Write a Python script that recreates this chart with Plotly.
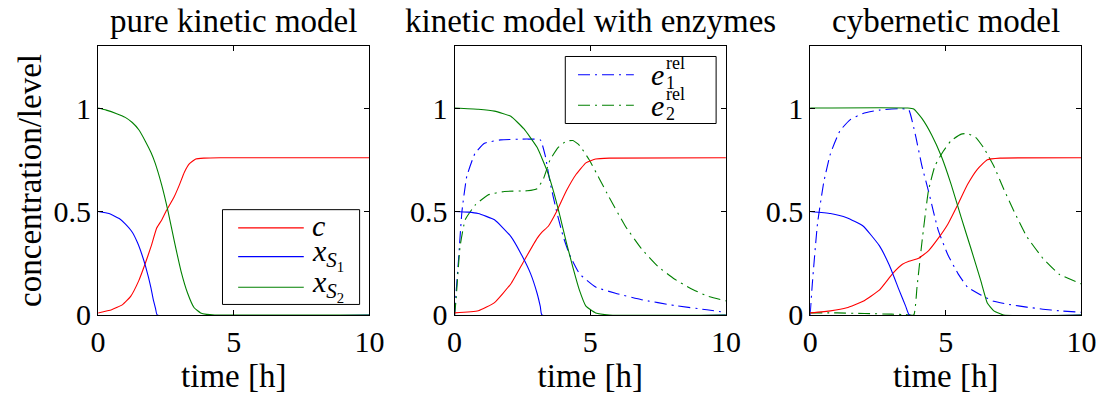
import plotly.graph_objects as go

# ---------------- data: time [h] and concentration/level ----------------
# pure kinetic model
p1_t_c = [0, 0.5, 0.9, 1.2, 1.5, 1.74, 1.95, 2.16, 2.35, 2.5, 2.8, 3.0, 3.18, 3.36, 3.6, 3.9, 4.5, 10]
p1_c = [0.01, 0.025, 0.05, 0.09, 0.166, 0.25, 0.33, 0.42, 0.46, 0.50, 0.57, 0.63, 0.69, 0.73, 0.754, 0.758, 0.76, 0.76]
p1_t_s1 = [0, 0.4, 0.78, 1.0, 1.26, 1.45, 1.62, 1.75, 1.86, 1.95, 2.04, 2.12, 2.18, 10]
p1_s1 = [0.5, 0.49, 0.466, 0.44, 0.40, 0.35, 0.29, 0.235, 0.18, 0.13, 0.07, 0.03, 0, 0]
p1_t_s2 = [0, 0.3, 0.66, 1.0, 1.26, 1.5, 1.74, 1.95, 2.1, 2.34, 2.58, 2.82, 3.06, 3.3, 3.54, 3.78, 4.0, 4.3, 10]
p1_s2 = [1.0, 0.99, 0.974, 0.955, 0.93, 0.895, 0.84, 0.785, 0.735, 0.63, 0.50, 0.35, 0.21, 0.105, 0.035, 0.01, 0.003, 0, 0]

# kinetic model with enzymes
p2_t_c = [0, 0.87, 1.47, 2.07, 2.55, 3.04, 3.22, 3.46, 3.76, 4.12, 4.48, 4.84, 5.2, 5.7, 10]
p2_c = [0.01, 0.02, 0.06, 0.15, 0.26, 0.37, 0.40, 0.43, 0.50, 0.60, 0.68, 0.735, 0.754, 0.758, 0.76]
p2_t_s1 = [0, 0.5, 0.87, 1.47, 2.07, 2.43, 2.8, 3.04, 3.16, 3.22, 10]
p2_s1 = [0.5, 0.497, 0.49, 0.46, 0.38, 0.30, 0.20, 0.105, 0.04, 0, 0]
p2_t_s2 = [0, 0.87, 1.47, 2.07, 2.55, 3.04, 3.4, 3.64, 3.88, 4.12, 4.36, 4.6, 4.84, 5.2, 5.7, 10]
p2_s2 = [1.0, 0.994, 0.985, 0.96, 0.90, 0.81, 0.70, 0.60, 0.48, 0.35, 0.23, 0.12, 0.043, 0.01, 0, 0]
p2_t_e1 = [0, 0.05, 0.14, 0.27, 0.45, 0.75, 1.1, 1.7, 2.67, 3.16, 3.34, 3.52, 3.76, 4.0, 4.24, 4.6, 5.2,
           5.93, 6.89, 8.1, 9.3, 10]
p2_e1 = [0, 0.1, 0.26, 0.5, 0.67, 0.78, 0.83, 0.846, 0.85, 0.846, 0.77, 0.64, 0.50, 0.38, 0.29, 0.20, 0.135,
         0.105, 0.074, 0.046, 0.025, 0.012]
p2_t_e2 = [0, 0.05, 0.2, 0.39, 0.75, 1.23, 1.83, 2.67, 3.04, 3.28, 3.52, 3.82, 4.12, 4.36, 4.6, 4.96, 5.33,
           5.69, 6.29, 6.89, 7.49, 8.1, 8.7, 9.3, 10]
p2_e2 = [0, 0.07, 0.33, 0.46, 0.53, 0.58, 0.597, 0.60, 0.61, 0.66, 0.75, 0.81, 0.84, 0.843, 0.82, 0.75, 0.66,
         0.57, 0.43, 0.32, 0.235, 0.174, 0.128, 0.092, 0.068]

# cybernetic model
p3_t_c = [0, 0.75, 1.35, 1.95, 2.55, 3.04, 3.4, 3.64, 4.0, 4.36, 4.72, 5.08, 5.45, 5.8, 6.17, 6.53, 7.0, 10]
p3_c = [0.01, 0.02, 0.035, 0.066, 0.12, 0.20, 0.245, 0.26, 0.274, 0.31, 0.37, 0.44, 0.535, 0.63, 0.705, 0.75,
        0.758, 0.76]
p3_t_s1 = [0, 0.75, 1.35, 1.95, 2.55, 2.92, 3.28, 3.52, 3.66, 10]
p3_s1 = [0.5, 0.49, 0.47, 0.43, 0.335, 0.24, 0.12, 0.043, 0, 0]
p3_t_s2 = [0, 3.6, 3.82, 4.12, 4.48, 4.84, 5.2, 5.57, 5.93, 6.29, 6.53, 6.77, 7.13, 10]
p3_s2 = [1, 1, 0.995, 0.95, 0.87, 0.766, 0.63, 0.47, 0.32, 0.166, 0.058, 0.02, 0, 0]
p3_t_e1 = [0, 0.08, 0.27, 0.5, 0.75, 1.1, 1.47, 1.95, 2.55, 3.4, 3.64, 3.88, 4.12, 4.36, 4.72, 5.08, 5.45,
           5.8, 6.29, 6.77, 7.37, 7.98, 8.58, 9.18, 10]
p3_e1 = [0, 0.15, 0.44, 0.64, 0.78, 0.89, 0.943, 0.974, 0.99, 0.997, 0.99, 0.87, 0.72, 0.60, 0.41, 0.29, 0.20,
         0.135, 0.097, 0.066, 0.05, 0.038, 0.028, 0.02, 0.013]
p3_t_e2 = [0, 1, 2, 3, 3.5, 3.82, 3.94, 4.12, 4.36, 4.6, 4.9, 5.2, 5.57, 5.8, 6.1, 6.41, 6.77, 7.13, 7.5,
           7.98, 8.58, 9.18, 10]
p3_e2 = [0.01, 0.01, 0.007, 0.004, 0.002, 0, 0.135, 0.35, 0.60, 0.72, 0.79, 0.843, 0.874, 0.877, 0.858,
         0.805, 0.72, 0.61, 0.505, 0.38, 0.274, 0.197, 0.15]

panel_titles = ["pure kinetic model", "kinetic model with enzymes", "cybernetic model"]
x_ticks = [0, 5, 10]
y_ticks = [0, 0.5, 1]

# ---------------- styling ----------------
W, H = 1117, 399
FONT = "Liberation Serif, DejaVu Serif, Times New Roman, serif"
FS = 30        # tick labels, legend entries
FS_T = 33      # titles and axis titles
FS_S = 18      # stacked super/subscripts
RED, BLUE, GREEN = "#ff0000", "#0000ff", "#008000"
DASHDOT = "12px,5px,2px,5px"
LW = 1.1


def px(x):
    return x / W


def py(y):
    return 1 - y / H


panel_left = [92, 456, 819]
panel_right = [369, 733, 1096]
plot_top, plot_bottom = 48, 329

fig = go.Figure()


def add_line(t, v, color, axis, dash="solid"):
    fig.add_trace(go.Scatter(
        x=t, y=v, mode="lines", xaxis="x" + axis, yaxis="y" + axis,
        line=dict(color=color, width=LW, dash=dash, shape="spline", smoothing=0.4),
        showlegend=False, hoverinfo="skip"))


add_line(p1_t_c, p1_c, RED, "")
add_line(p1_t_s1, p1_s1, BLUE, "")
add_line(p1_t_s2, p1_s2, GREEN, "")

add_line(p2_t_e1, p2_e1, BLUE, "2", DASHDOT)
add_line(p2_t_e2, p2_e2, GREEN, "2", DASHDOT)
add_line(p2_t_c, p2_c, RED, "2")
add_line(p2_t_s1, p2_s1, BLUE, "2")
add_line(p2_t_s2, p2_s2, GREEN, "2")

add_line(p3_t_e1, p3_e1, BLUE, "3", DASHDOT)
add_line(p3_t_e2, p3_e2, GREEN, "3", DASHDOT)
add_line(p3_t_c, p3_c, RED, "3")
add_line(p3_t_s1, p3_s1, BLUE, "3")
add_line(p3_t_s2, p3_s2, GREEN, "3")

axis_common = dict(
    showline=True, linecolor="black", linewidth=1, mirror="ticks",
    ticks="inside", ticklen=5, tickwidth=1, tickcolor="black",
    showgrid=False, zeroline=False,
    tickfont=dict(family=FONT, size=FS, color="black"),
)

layout = dict(
    width=W, height=H, margin=dict(l=0, r=0, t=0, b=0),
    paper_bgcolor="white", plot_bgcolor="white",
    font=dict(family=FONT, size=FS, color="black"),
)
for i in range(3):
    sfx = "" if i == 0 else str(i + 1)
    layout["xaxis" + sfx] = dict(
        axis_common, domain=[px(panel_left[i]), px(panel_right[i])], range=[0, 10],
        tickvals=x_ticks, anchor="y" + sfx,
        title=dict(text="time [h]", font=dict(family=FONT, size=FS_T), standoff=0))
    layout["yaxis" + sfx] = dict(
        axis_common, domain=[py(plot_bottom), py(plot_top)], range=[0, 1.3],
        tickvals=y_ticks, anchor="x" + sfx)
layout["yaxis"]["title"] = dict(text="concentration/level", font=dict(family=FONT, size=FS_T), standoff=2)
fig.update_layout(**layout)

annotations = []
shapes = []
for i, title in enumerate(panel_titles):
    annotations.append(dict(
        text=title, x=px((panel_left[i] + panel_right[i]) / 2), y=py(22), xref="paper", yref="paper",
        showarrow=False, xanchor="center", yanchor="middle", font=dict(family=FONT, size=FS_T)))

# legend of the pure kinetic panel
shapes.append(dict(type="rect", xref="paper", yref="paper", x0=px(219), x1=px(359), y0=py(318), y1=py(219),
                   line=dict(color="black", width=1), fillcolor="white", layer="above"))
for yy, col, label in [(238, RED, "<i>c</i>"),
                       (268, BLUE, "<i>x</i><sub><i>S</i><sub>1</sub></sub>"),
                       (300, GREEN, "<i>x</i><sub><i>S</i><sub>2</sub></sub>")]:
    shapes.append(dict(type="line", xref="paper", yref="paper", x0=px(235), x1=px(302), y0=py(yy), y1=py(yy),
                       line=dict(color=col, width=LW), layer="above"))
    annotations.append(dict(text=label, x=px(309), y=py(yy - 2), xref="paper", yref="paper", showarrow=False,
                            xanchor="left", yanchor="middle", borderpad=0, font=dict(family=FONT, size=FS)))

# legend of the enzyme panel
shapes.append(dict(type="rect", xref="paper", yref="paper", x0=px(569), x1=px(723), y0=py(129), y1=py(59),
                   line=dict(color="black", width=1), fillcolor="white", layer="above"))
for yy, col, idx in [(78, BLUE, "1"), (110, GREEN, "2")]:
    shapes.append(dict(type="line", xref="paper", yref="paper", x0=px(582), x1=px(639), y0=py(yy), y1=py(yy),
                       line=dict(color=col, width=LW, dash=DASHDOT), layer="above"))
    annotations.append(dict(text="<i>e</i>", x=px(655), y=py(yy), xref="paper", yref="paper", showarrow=False,
                            xanchor="left", yanchor="middle", borderpad=0, font=dict(family=FONT, size=FS)))
    annotations.append(dict(text="rel", x=px(671), y=py(yy - 12), xref="paper", yref="paper", showarrow=False,
                            xanchor="left", yanchor="middle", borderpad=0,
                            font=dict(family=FONT, size=FS_S)))
    annotations.append(dict(text=idx, x=px(671), y=py(yy + 9), xref="paper", yref="paper", showarrow=False,
                            xanchor="left", yanchor="middle", borderpad=0,
                            font=dict(family=FONT, size=FS_S)))

fig.update_layout(annotations=annotations, shapes=shapes)
fig.write_html("out.html")
